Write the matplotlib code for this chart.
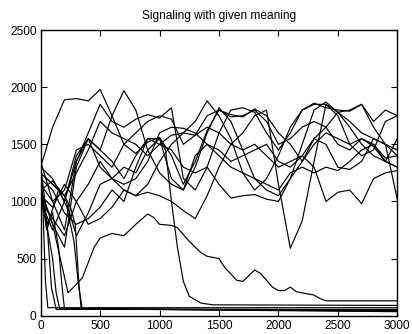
import matplotlib
matplotlib.use("Agg")
import matplotlib.pyplot as plt

# sample positions shared by the wandering runs
grid = [0, 100, 200, 300, 400, 500, 600, 700, 800, 900, 1000,
        1100, 1200, 1300, 1400, 1500, 1600, 1700, 1800, 1900, 2000,
        2100, 2200, 2300, 2400, 2500, 2600, 2700, 2800, 2900, 3000]

run_a = [1300, 1650, 1890, 1900, 1880, 1980, 1750, 1500, 1420, 1520, 1560,
         1400, 1150, 1350, 1620, 1800, 1760, 1740, 1810, 1750, 1600,
         1500, 1350, 1550, 1650, 1500, 1450, 1550, 1480, 1350, 1300]
run_b = [1100, 800, 600, 1300, 1550, 1450, 1750, 1970, 1800, 1450, 1250,
         1150, 1100, 1300, 1600, 1820, 1700, 1450, 1200, 1100, 1050,
         1200, 1500, 1800, 1870, 1780, 1650, 1500, 1400, 1350, 1550]
run_c = [1350, 1000, 750, 1350, 1600, 1850, 1700, 1650, 1720, 1760, 1730,
         1820, 1200, 1100, 1300, 1600, 1800, 1820, 1780, 1600, 1450,
         1600, 1800, 1860, 1820, 1800, 1790, 1850, 1650, 1500, 1400]
run_d = [1250, 1150, 1050, 1250, 1450, 1700, 1600, 1550, 1500, 1400, 1500,
         1580, 1600, 1700, 1880, 1750, 1550, 1250, 1100, 1200, 1400,
         1650, 1800, 1850, 1850, 1750, 1500, 1400, 1450, 1700, 1750]
run_e = [1000, 850, 700, 1000, 1150, 1350, 1200, 1100, 1050, 1080, 1050,
         1000, 920, 850, 1050, 1300, 1500, 1450, 1500, 1400, 1300,
         1350, 1400, 1300, 1000, 1080, 1100, 980, 1200, 1250, 1270]
run_f = [1200, 1100, 900, 800, 850, 950, 1100, 1000, 1300, 1550, 1500,
         1450, 1300, 1250, 1300, 1150, 1030, 1050, 1060, 1020, 1000,
         1200, 1350, 1500, 1600, 1550, 1500, 1550, 1500, 1380, 1400]
run_g = [1050, 950, 1150, 1000, 800, 850, 950, 1100, 1050, 1150, 1350,
         1500, 1600, 1580, 1650, 1600, 1500, 1600, 1750, 1800, 1150,
         590, 830, 1350, 1850, 1780, 1700, 1600, 1550, 1500, 1450]
run_h = [1150, 1000, 1100, 1450, 1500, 1400, 1300, 1500, 1600, 1700, 1750,
         1720, 1500, 1580, 1750, 1800, 1740, 1750, 1800, 1700, 1500,
         1550, 1650, 1700, 1650, 1780, 1800, 1850, 1700, 1800, 1750]
run_i = [1100, 1180, 1050, 700, 900, 1150, 1200, 1300, 1250, 1450, 1550,
         1200, 1100, 1400, 1500, 1450, 1350, 1400, 1450, 1500, 1350,
         1300, 1400, 1550, 1500, 1300, 1280, 1350, 1550, 1500, 1020]
run_j = [1300, 1200, 1000, 1400, 1550, 1300, 1200, 1150, 1200, 1350, 1600,
         1650, 1640, 1600, 1500, 1400, 1300, 1250, 1200, 1150, 1100,
         1250, 1300, 1250, 1300, 1270, 1350, 1450, 1500, 1350, 1300]

# slow decay after ~1000
slow_x = [0, 100, 230, 350, 450, 500, 600, 700, 800, 900, 950, 1000, 1100,
          1150, 1250, 1350, 1400, 1450, 1500, 1550, 1650, 1700, 1800, 1850,
          1950, 2000, 2050, 2100, 2150, 2250, 2300, 2350, 2400, 3000]
slow_y = [1100, 800, 200, 330, 600, 680, 720, 700, 800, 890, 860, 800, 790,
          770, 650, 550, 520, 510, 500, 420, 310, 300, 400, 370,
          250, 220, 220, 250, 210, 190, 180, 150, 130, 130]

# sharp collapse near 1100
drop_x = [0, 100, 200, 300, 400, 500, 600, 700, 800, 900, 1000, 1050,
          1100, 1150, 1200, 1250, 1350, 1450, 3000]
drop_y = [1000, 750, 1000, 1350, 1550, 1450, 1350, 1200, 1400, 1550, 1550,
          1450, 1000, 600, 300, 170, 110, 95, 90]

# early collapses to the floor
fast1_x = [0, 20, 40, 60, 3000]
fast1_y = [1350, 900, 300, 70, 70]
fast2_x = [0, 30, 60, 90, 130, 3000]
fast2_y = [1300, 1050, 700, 250, 55, 55]
fast3_x = [0, 50, 100, 130, 160, 3000]
fast3_y = [1200, 800, 500, 200, 60, 50]
fast4_x = [0, 50, 100, 150, 180, 200, 3000]
fast4_y = [1100, 750, 900, 600, 250, 60, 45]
fast5_x = [0, 100, 200, 250, 290, 320, 340, 3000]
fast5_y = [1250, 1150, 1050, 950, 800, 300, 60, 40]
fast6_x = [0, 60, 150, 220, 280, 320, 350, 3000]
fast6_y = [1050, 800, 1100, 950, 650, 250, 60, 35]

plt.rcParams["font.family"] = ["Liberation Sans", "DejaVu Sans"]

fig = plt.figure(figsize=(4.12, 3.34), dpi=100)
ax = fig.add_axes([0.0988, 0.0548, 0.8655, 0.8552])

for ys in [run_a, run_b, run_c, run_d, run_e, run_f, run_g, run_h, run_i, run_j]:
    ax.plot(grid, ys, color="black", lw=0.85)

pairs = [(slow_x, slow_y), (drop_x, drop_y), (fast1_x, fast1_y),
         (fast2_x, fast2_y), (fast3_x, fast3_y), (fast4_x, fast4_y),
         (fast5_x, fast5_y), (fast6_x, fast6_y)]
for xs, ys in pairs:
    ax.plot(xs, ys, color="black", lw=0.85)

ax.set_xlim(0, 3000)
ax.set_ylim(0, 2500)
ax.set_xticks([0, 500, 1000, 1500, 2000, 2500, 3000])
ax.set_yticks([0, 500, 1000, 1500, 2000, 2500])
ax.tick_params(direction="in", length=4, width=0.8, labelsize=8.6,
               top=True, right=True, pad=3)
for s in ax.spines.values():
    s.set_linewidth(1.0)

ax.set_title("Signaling with given meaning", fontsize=8.6, pad=8)

fig.savefig("out.png", dpi=100)
